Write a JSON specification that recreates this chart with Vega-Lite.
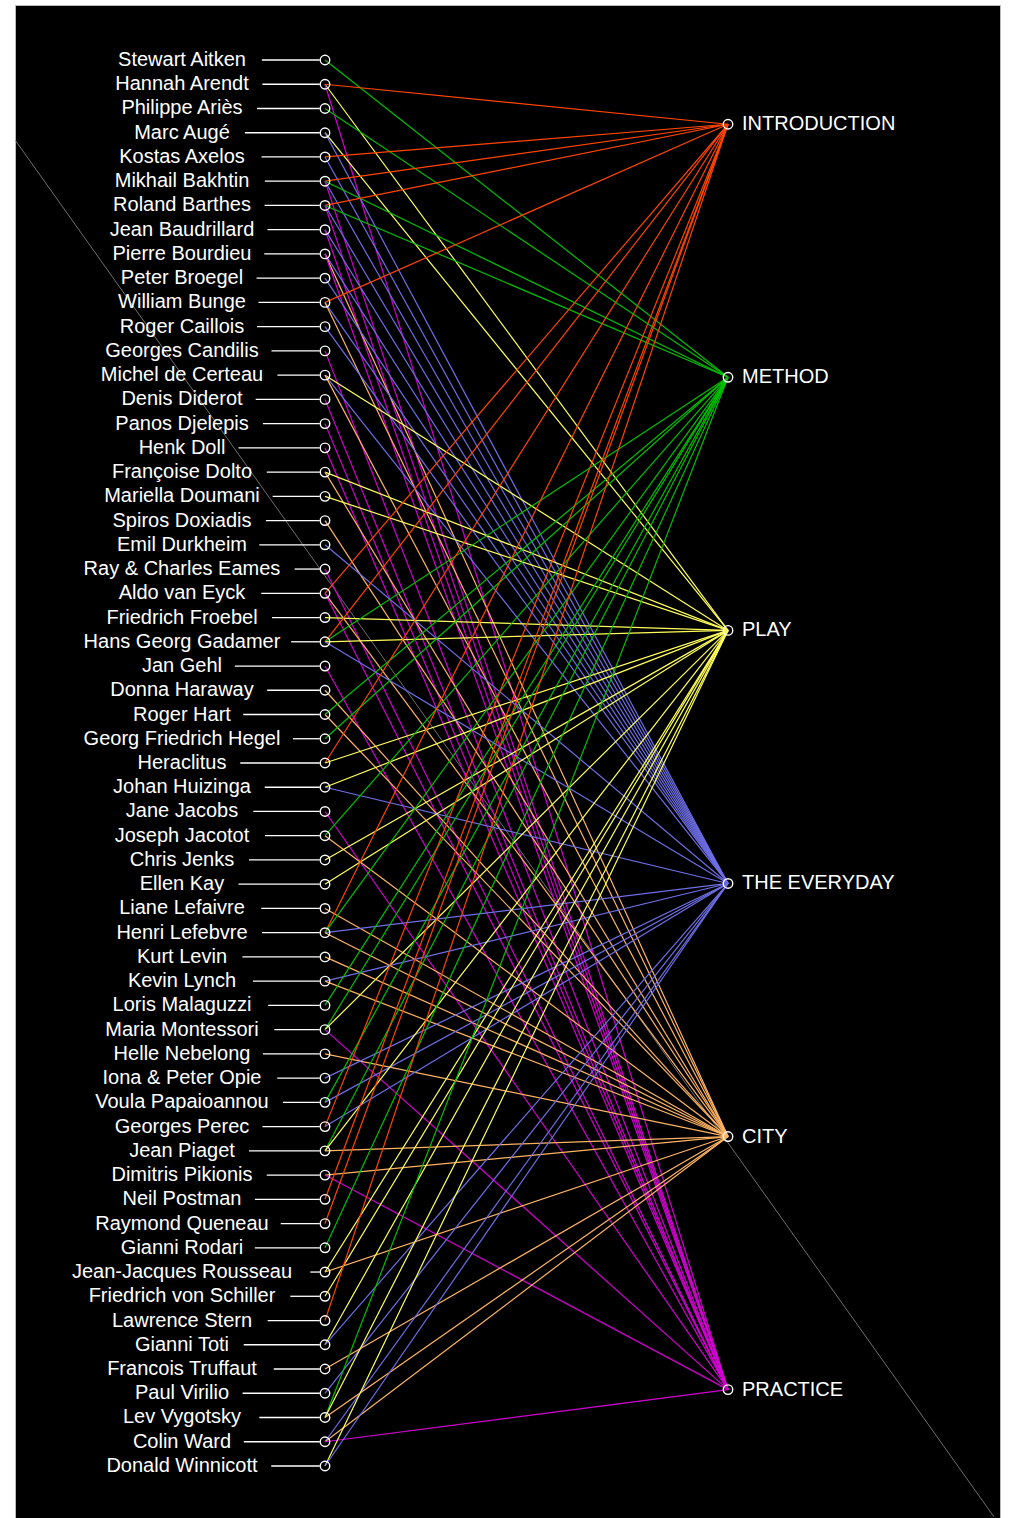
{
  "$schema": "https://vega.github.io/schema/vega-lite/v6.json",
  "width": 985,
  "height": 1513,
  "autosize": {"type": "none"},
  "padding": {"left": 15, "top": 5, "right": 9, "bottom": 0},
  "background": "white",
  "config": {"view": {"fill": "black", "stroke": "#bbbbbb", "strokeWidth": 1}},
  "datasets": {
    "people": [
      {"name": "Stewart Aitken", "i": 0},
      {"name": "Hannah Arendt", "i": 1},
      {"name": "Philippe Ariès", "i": 2},
      {"name": "Marc Augé", "i": 3},
      {"name": "Kostas Axelos", "i": 4},
      {"name": "Mikhail Bakhtin", "i": 5},
      {"name": "Roland Barthes", "i": 6},
      {"name": "Jean Baudrillard", "i": 7},
      {"name": "Pierre Bourdieu", "i": 8},
      {"name": "Peter Broegel", "i": 9},
      {"name": "William Bunge", "i": 10},
      {"name": "Roger Caillois", "i": 11},
      {"name": "Georges Candilis", "i": 12},
      {"name": "Michel de Certeau", "i": 13},
      {"name": "Denis Diderot", "i": 14},
      {"name": "Panos Djelepis", "i": 15},
      {"name": "Henk Doll", "i": 16},
      {"name": "Françoise Dolto", "i": 17},
      {"name": "Mariella Doumani", "i": 18},
      {"name": "Spiros Doxiadis", "i": 19},
      {"name": "Emil Durkheim", "i": 20},
      {"name": "Ray & Charles Eames", "i": 21},
      {"name": "Aldo van Eyck", "i": 22},
      {"name": "Friedrich Froebel", "i": 23},
      {"name": "Hans Georg Gadamer", "i": 24},
      {"name": "Jan Gehl", "i": 25},
      {"name": "Donna Haraway", "i": 26},
      {"name": "Roger Hart", "i": 27},
      {"name": "Georg Friedrich Hegel", "i": 28},
      {"name": "Heraclitus", "i": 29},
      {"name": "Johan Huizinga", "i": 30},
      {"name": "Jane Jacobs", "i": 31},
      {"name": "Joseph Jacotot", "i": 32},
      {"name": "Chris Jenks", "i": 33},
      {"name": "Ellen Kay", "i": 34},
      {"name": "Liane Lefaivre", "i": 35},
      {"name": "Henri Lefebvre", "i": 36},
      {"name": "Kurt Levin", "i": 37},
      {"name": "Kevin Lynch", "i": 38},
      {"name": "Loris Malaguzzi", "i": 39},
      {"name": "Maria Montessori", "i": 40},
      {"name": "Helle Nebelong", "i": 41},
      {"name": "Iona & Peter Opie", "i": 42},
      {"name": "Voula Papaioannou", "i": 43},
      {"name": "Georges Perec", "i": 44},
      {"name": "Jean Piaget", "i": 45},
      {"name": "Dimitris Pikionis", "i": 46},
      {"name": "Neil Postman", "i": 47},
      {"name": "Raymond Queneau", "i": 48},
      {"name": "Gianni Rodari", "i": 49},
      {"name": "Jean-Jacques Rousseau", "i": 50},
      {"name": "Friedrich von Schiller", "i": 51},
      {"name": "Lawrence Stern", "i": 52},
      {"name": "Gianni Toti", "i": 53},
      {"name": "Francois Truffaut", "i": 54},
      {"name": "Paul Virilio", "i": 55},
      {"name": "Lev Vygotsky", "i": 56},
      {"name": "Colin Ward", "i": 57},
      {"name": "Donald Winnicott", "i": 58}
    ],
    "topics": [
      {"topic": "INTRODUCTION", "k": 0},
      {"topic": "METHOD", "k": 1},
      {"topic": "PLAY", "k": 2},
      {"topic": "THE EVERYDAY", "k": 3},
      {"topic": "CITY", "k": 4},
      {"topic": "PRACTICE", "k": 5}
    ],
    "edges": [
      {"name": "Stewart Aitken", "topic": "METHOD"},
      {"name": "Hannah Arendt", "topic": "INTRODUCTION"},
      {"name": "Hannah Arendt", "topic": "PLAY"},
      {"name": "Hannah Arendt", "topic": "PRACTICE"},
      {"name": "Philippe Ariès", "topic": "METHOD"},
      {"name": "Marc Augé", "topic": "PLAY"},
      {"name": "Marc Augé", "topic": "THE EVERYDAY"},
      {"name": "Kostas Axelos", "topic": "INTRODUCTION"},
      {"name": "Kostas Axelos", "topic": "THE EVERYDAY"},
      {"name": "Mikhail Bakhtin", "topic": "INTRODUCTION"},
      {"name": "Mikhail Bakhtin", "topic": "METHOD"},
      {"name": "Mikhail Bakhtin", "topic": "THE EVERYDAY"},
      {"name": "Mikhail Bakhtin", "topic": "PRACTICE"},
      {"name": "Roland Barthes", "topic": "INTRODUCTION"},
      {"name": "Roland Barthes", "topic": "METHOD"},
      {"name": "Roland Barthes", "topic": "THE EVERYDAY"},
      {"name": "Roland Barthes", "topic": "PRACTICE"},
      {"name": "Jean Baudrillard", "topic": "THE EVERYDAY"},
      {"name": "Jean Baudrillard", "topic": "PRACTICE"},
      {"name": "Pierre Bourdieu", "topic": "THE EVERYDAY"},
      {"name": "Pierre Bourdieu", "topic": "CITY"},
      {"name": "Pierre Bourdieu", "topic": "PRACTICE"},
      {"name": "Peter Broegel", "topic": "THE EVERYDAY"},
      {"name": "William Bunge", "topic": "INTRODUCTION"},
      {"name": "William Bunge", "topic": "THE EVERYDAY"},
      {"name": "William Bunge", "topic": "CITY"},
      {"name": "Roger Caillois", "topic": "THE EVERYDAY"},
      {"name": "Georges Candilis", "topic": "PRACTICE"},
      {"name": "Michel de Certeau", "topic": "PLAY"},
      {"name": "Michel de Certeau", "topic": "THE EVERYDAY"},
      {"name": "Michel de Certeau", "topic": "CITY"},
      {"name": "Denis Diderot", "topic": "PRACTICE"},
      {"name": "Panos Djelepis", "topic": "PRACTICE"},
      {"name": "Henk Doll", "topic": "PRACTICE"},
      {"name": "Françoise Dolto", "topic": "PLAY"},
      {"name": "Françoise Dolto", "topic": "CITY"},
      {"name": "Mariella Doumani", "topic": "PLAY"},
      {"name": "Spiros Doxiadis", "topic": "CITY"},
      {"name": "Emil Durkheim", "topic": "THE EVERYDAY"},
      {"name": "Ray & Charles Eames", "topic": "PRACTICE"},
      {"name": "Aldo van Eyck", "topic": "INTRODUCTION"},
      {"name": "Aldo van Eyck", "topic": "CITY"},
      {"name": "Aldo van Eyck", "topic": "PRACTICE"},
      {"name": "Friedrich Froebel", "topic": "PLAY"},
      {"name": "Hans Georg Gadamer", "topic": "INTRODUCTION"},
      {"name": "Hans Georg Gadamer", "topic": "METHOD"},
      {"name": "Hans Georg Gadamer", "topic": "PLAY"},
      {"name": "Hans Georg Gadamer", "topic": "THE EVERYDAY"},
      {"name": "Jan Gehl", "topic": "PRACTICE"},
      {"name": "Donna Haraway", "topic": "CITY"},
      {"name": "Roger Hart", "topic": "METHOD"},
      {"name": "Roger Hart", "topic": "CITY"},
      {"name": "Georg Friedrich Hegel", "topic": "METHOD"},
      {"name": "Heraclitus", "topic": "INTRODUCTION"},
      {"name": "Heraclitus", "topic": "PLAY"},
      {"name": "Johan Huizinga", "topic": "PLAY"},
      {"name": "Johan Huizinga", "topic": "THE EVERYDAY"},
      {"name": "Jane Jacobs", "topic": "PRACTICE"},
      {"name": "Joseph Jacotot", "topic": "METHOD"},
      {"name": "Joseph Jacotot", "topic": "CITY"},
      {"name": "Chris Jenks", "topic": "PLAY"},
      {"name": "Ellen Kay", "topic": "PLAY"},
      {"name": "Liane Lefaivre", "topic": "CITY"},
      {"name": "Henri Lefebvre", "topic": "INTRODUCTION"},
      {"name": "Henri Lefebvre", "topic": "METHOD"},
      {"name": "Henri Lefebvre", "topic": "THE EVERYDAY"},
      {"name": "Henri Lefebvre", "topic": "CITY"},
      {"name": "Kurt Levin", "topic": "CITY"},
      {"name": "Kevin Lynch", "topic": "THE EVERYDAY"},
      {"name": "Kevin Lynch", "topic": "CITY"},
      {"name": "Loris Malaguzzi", "topic": "METHOD"},
      {"name": "Maria Montessori", "topic": "METHOD"},
      {"name": "Maria Montessori", "topic": "PLAY"},
      {"name": "Maria Montessori", "topic": "PRACTICE"},
      {"name": "Helle Nebelong", "topic": "CITY"},
      {"name": "Iona & Peter Opie", "topic": "THE EVERYDAY"},
      {"name": "Voula Papaioannou", "topic": "METHOD"},
      {"name": "Voula Papaioannou", "topic": "THE EVERYDAY"},
      {"name": "Georges Perec", "topic": "INTRODUCTION"},
      {"name": "Georges Perec", "topic": "THE EVERYDAY"},
      {"name": "Jean Piaget", "topic": "METHOD"},
      {"name": "Jean Piaget", "topic": "PLAY"},
      {"name": "Jean Piaget", "topic": "CITY"},
      {"name": "Dimitris Pikionis", "topic": "CITY"},
      {"name": "Dimitris Pikionis", "topic": "PRACTICE"},
      {"name": "Neil Postman", "topic": "INTRODUCTION"},
      {"name": "Raymond Queneau", "topic": "INTRODUCTION"},
      {"name": "Gianni Rodari", "topic": "METHOD"},
      {"name": "Jean-Jacques Rousseau", "topic": "PLAY"},
      {"name": "Jean-Jacques Rousseau", "topic": "CITY"},
      {"name": "Friedrich von Schiller", "topic": "PLAY"},
      {"name": "Lawrence Stern", "topic": "INTRODUCTION"},
      {"name": "Gianni Toti", "topic": "PLAY"},
      {"name": "Gianni Toti", "topic": "THE EVERYDAY"},
      {"name": "Francois Truffaut", "topic": "CITY"},
      {"name": "Paul Virilio", "topic": "THE EVERYDAY"},
      {"name": "Lev Vygotsky", "topic": "METHOD"},
      {"name": "Lev Vygotsky", "topic": "PLAY"},
      {"name": "Lev Vygotsky", "topic": "CITY"},
      {"name": "Colin Ward", "topic": "THE EVERYDAY"},
      {"name": "Colin Ward", "topic": "CITY"},
      {"name": "Colin Ward", "topic": "PRACTICE"},
      {"name": "Donald Winnicott", "topic": "PLAY"},
      {"name": "Donald Winnicott", "topic": "THE EVERYDAY"}
    ]
  },
  "layer": [
    {
      "data": {"values": [{"line": "diagonal"}]},
      "mark": {"type": "rule", "stroke": "#8a8a8a", "strokeWidth": 0.8},
      "encoding": {
        "x": {"datum": -0.769, "type": "quantitative", "scale": {"domain": [-0.7692, 1.6749], "nice": false, "zero": false}, "axis": null},
        "x2": {"datum": 1.66},
        "y": {"datum": 3.3, "type": "quantitative", "scale": {"domain": [-2.269, 60.146], "reverse": true, "nice": false, "zero": false}, "axis": null},
        "y2": {"datum": 60.1}
      }
    },
    {
      "data": {"name": "edges"},
      "transform": [
        {"lookup": "name", "from": {"data": {"name": "people"}, "key": "name", "fields": ["i"]}},
        {"lookup": "topic", "from": {"data": {"name": "topics"}, "key": "topic", "fields": ["k"]}},
        {"calculate": "2.65 + datum.k * 10.44", "as": "ty"}
      ],
      "mark": {"type": "rule", "strokeWidth": 1.2},
      "encoding": {
        "x": {"datum": 0, "type": "quantitative", "scale": {"domain": [-0.7692, 1.6749], "nice": false, "zero": false}, "axis": null},
        "x2": {"datum": 1},
        "y": {"field": "i", "type": "quantitative", "scale": {"domain": [-2.269, 60.146], "reverse": true, "nice": false, "zero": false}, "axis": null},
        "y2": {"field": "ty"},
        "color": {
          "field": "topic", "type": "nominal",
          "scale": {"domain": ["INTRODUCTION", "METHOD", "PLAY", "THE EVERYDAY", "CITY", "PRACTICE"],
                    "range": ["#ff4500", "#00c000", "#ffff5c", "#6e6ee6", "#ffb464", "#d200d2"]},
          "legend": null
        }
      }
    },
    {
      "data": {"name": "people"},
      "transform": [
        {"calculate": "11.1 * length(datum.name) - 6.7 * length(replace(datum.name, /[^ilj]/g, '')) - 5 * length(replace(datum.name, /[^tfr]/g, '')) - 5.5 * length(replace(datum.name, /[^ ]/g, '')) + 4.5 * length(replace(datum.name, /[^mwMW]/g, '')) + 3 * length(replace(datum.name, /[^A-HK-Z&]/g, ''))", "as": "w"},
        {"calculate": "(datum.w / 2 - 130) / 403", "as": "xs"}
      ],
      "mark": {"type": "rule", "stroke": "white", "strokeWidth": 1.3},
      "encoding": {
        "x": {"field": "xs", "type": "quantitative", "scale": {"domain": [-0.7692, 1.6749], "nice": false, "zero": false}, "axis": null},
        "x2": {"datum": -0.013},
        "y": {"field": "i", "type": "quantitative", "scale": {"domain": [-2.269, 60.146], "reverse": true, "nice": false, "zero": false}, "axis": null}
      }
    },
    {
      "data": {"name": "people"},
      "mark": {"type": "point", "shape": "circle", "filled": false, "size": 90, "stroke": "white", "strokeWidth": 1.4, "opacity": 1},
      "encoding": {
        "x": {"datum": 0, "type": "quantitative", "scale": {"domain": [-0.7692, 1.6749], "nice": false, "zero": false}, "axis": null},
        "y": {"field": "i", "type": "quantitative", "scale": {"domain": [-2.269, 60.146], "reverse": true, "nice": false, "zero": false}, "axis": null}
      }
    },
    {
      "data": {"name": "people"},
      "mark": {"type": "text", "dx": -143, "align": "center", "baseline": "middle", "fontSize": 20, "font": "Liberation Sans", "fill": "white"},
      "encoding": {
        "x": {"datum": 0, "type": "quantitative", "scale": {"domain": [-0.7692, 1.6749], "nice": false, "zero": false}, "axis": null},
        "y": {"field": "i", "type": "quantitative", "scale": {"domain": [-2.269, 60.146], "reverse": true, "nice": false, "zero": false}, "axis": null},
        "text": {"field": "name"}
      }
    },
    {
      "data": {"name": "topics"},
      "transform": [{"calculate": "2.65 + datum.k * 10.44", "as": "ty"}],
      "mark": {"type": "point", "shape": "circle", "filled": false, "size": 90, "stroke": "white", "strokeWidth": 1.4, "opacity": 1},
      "encoding": {
        "x": {"datum": 1, "type": "quantitative", "scale": {"domain": [-0.7692, 1.6749], "nice": false, "zero": false}, "axis": null},
        "y": {"field": "ty", "type": "quantitative", "scale": {"domain": [-2.269, 60.146], "reverse": true, "nice": false, "zero": false}, "axis": null}
      }
    },
    {
      "data": {"name": "topics"},
      "transform": [{"calculate": "2.65 + datum.k * 10.44", "as": "ty"}],
      "mark": {"type": "text", "dx": 14, "align": "left", "baseline": "middle", "fontSize": 20, "font": "Liberation Sans", "fill": "white"},
      "encoding": {
        "x": {"datum": 1, "type": "quantitative", "scale": {"domain": [-0.7692, 1.6749], "nice": false, "zero": false}, "axis": null},
        "y": {"field": "ty", "type": "quantitative", "scale": {"domain": [-2.269, 60.146], "reverse": true, "nice": false, "zero": false}, "axis": null},
        "text": {"field": "topic"}
      }
    }
  ]
}
